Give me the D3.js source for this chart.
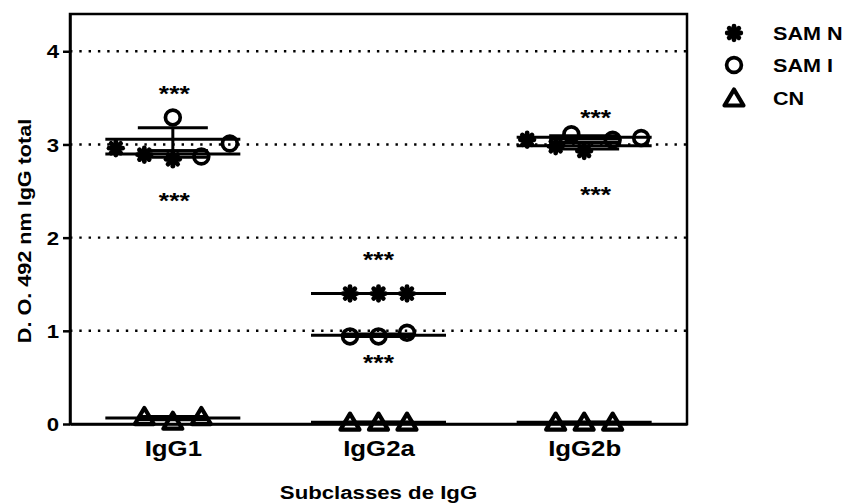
<!DOCTYPE html>
<html>
<head>
<meta charset="utf-8">
<script src="https://cdn.jsdelivr.net/npm/d3@7"></script>
<style>
  html, body { margin: 0; padding: 0; background: #fff; }
  svg { display: block; font-family: "Liberation Sans", Arial, sans-serif; font-weight: bold; }
</style>
</head>
<body>
<svg id="chart" width="842" height="504"></svg>
<script>
// ---- data ----
const categories = ["IgG1", "IgG2a", "IgG2b"];
const seriesNames = ["SAM N", "SAM I", "CN"];
// replicate optical densities per subclass
const samN = [[2.96, 2.89, 2.84], [1.40, 1.40, 1.40], [3.05, 2.98, 2.93]];
const samI = [[3.29, 2.87, 3.01], [0.94, 0.94, 0.98], [3.11, 3.05, 3.07]];
const cn   = [[0.08, 0.03, 0.08], [0.02, 0.02, 0.02], [0.02, 0.02, 0.02]];
// horizontal spread slot of each replicate inside its column
const samNSlots = [[-2, -1, 0], [-1, 0, 1], [-2, -1, 0]];
const samISlots = [[0, 1, 2], [-1, 0, 1], [-0.45, 1, 2]];
const cnSlots   = [[-1, 0, 1], [-1, 0, 1], [-1, 0, 1]];
const yTicks = [0, 1, 2, 3, 4];
// significance marks above and below each column
const sigText = "***";
const sigAbove = [3.60, 1.82, 3.34];
const sigBelow = [2.45, 0.71, 2.52];
const sigShift = [0.05, 0, 0.4];

// ---- layout ----
const plot = { left: 70, right: 687, top: 14, bottom: 424 };
const slotW = 28.5;
const meanHalf = 67.5, capHalf = 35;
const stretch = 1.2;

const svg = d3.select("#chart");
const x = d3.scalePoint().domain(categories).range([plot.left, plot.right]).padding(0.5);
const y = d3.scaleLinear().domain([0, 4.4]).range([plot.bottom, plot.top]);

// text drawn slightly widened along its own direction
function wideText(g, tx, ty, str, size, anchor, rot) {
  return g.append("text")
    .attr("transform", `translate(${tx},${ty})` + (rot ? ` rotate(${rot})` : "") + ` scale(${stretch},1)`)
    .attr("text-anchor", anchor)
    .attr("font-size", size)
    .attr("fill", "#000")
    .text(str);
}

// symbols
function drawSymbol(g, kind) {
  if (kind === "star") {
    const r = 6.8;
    for (let k = 0; k < 4; k++) {
      const a = k * Math.PI / 4;
      g.append("line")
        .attr("x1", -r * Math.cos(a)).attr("y1", -r * Math.sin(a))
        .attr("x2", r * Math.cos(a)).attr("y2", r * Math.sin(a))
        .attr("stroke", "#000").attr("stroke-width", 4.8).attr("stroke-linecap", "round");
    }
    g.append("circle").attr("r", 5.6).attr("fill", "#000");
  } else if (kind === "circle") {
    g.append("circle").attr("r", 7.4).attr("fill", "none")
      .attr("stroke", "#000").attr("stroke-width", 3.7);
  } else {
    g.append("path").attr("d", "M0,-8.5L9.5,7.5L-9.5,7.5Z").attr("fill", "none")
      .attr("stroke", "#000").attr("stroke-width", 4.2).attr("stroke-linejoin", "round");
  }
}

const series = [
  { name: seriesNames[0], values: samN, slots: samNSlots, symbol: "star" },
  { name: seriesNames[1], values: samI, slots: samISlots, symbol: "circle" },
  { name: seriesNames[2], values: cn,   slots: cnSlots,   symbol: "triangle" }
];

// dotted horizontal gridlines
svg.append("g").selectAll("line")
  .data(yTicks.filter(t => t > 0))
  .join("line")
  .attr("x1", plot.left).attr("x2", plot.right)
  .attr("y1", d => y(d)).attr("y2", d => y(d))
  .attr("stroke", "#000").attr("stroke-width", 2.4)
  .attr("stroke-dasharray", "2.4,6.9");

// frame
svg.append("rect")
  .attr("x", plot.left).attr("y", plot.top)
  .attr("width", plot.right - plot.left).attr("height", plot.bottom - plot.top)
  .attr("fill", "none").attr("stroke", "#000").attr("stroke-width", 2.5);

// y axis
const yAxis = svg.append("g")
  .attr("transform", `translate(${plot.left},0)`)
  .call(d3.axisLeft(y).tickValues(yTicks).tickFormat(d3.format("d")).tickSize(7).tickSizeOuter(0));
yAxis.select(".domain").attr("stroke-width", 2.5);
yAxis.selectAll(".tick line").attr("stroke-width", 2.5);
yAxis.selectAll(".tick text")
  .attr("font-size", 18.5)
  .attr("font-family", "Liberation Sans, Arial, sans-serif")
  .attr("font-weight", "bold")
  .attr("fill", "#000")
  .attr("x", -11 / stretch)
  .attr("dy", "0.36em")
  .attr("transform", `scale(${stretch},1)`);

// x axis (category names)
const xAxis = svg.append("g")
  .attr("transform", `translate(0,${plot.bottom})`)
  .call(d3.axisBottom(x).tickSize(0).tickSizeOuter(0));
xAxis.select(".domain").attr("stroke-width", 2.5);
xAxis.selectAll(".tick text")
  .attr("font-size", 21.5)
  .attr("font-family", "Liberation Sans, Arial, sans-serif")
  .attr("font-weight", "bold")
  .attr("fill", "#000")
  .attr("y", 32).attr("dy", 0)
  .attr("transform", `scale(${stretch},1)`);

// mean lines with SEM bars
const stats = svg.append("g");
series.forEach(s => {
  categories.forEach((c, i) => {
    const vals = s.values[i];
    const m = d3.mean(vals);
    const sem = (d3.deviation(vals) || 0) / Math.sqrt(vals.length);
    const cx = x(c);
    stats.append("line")
      .attr("x1", cx - meanHalf).attr("x2", cx + meanHalf)
      .attr("y1", y(m)).attr("y2", y(m))
      .attr("stroke", "#000").attr("stroke-width", 3);
    stats.append("line")
      .attr("x1", cx).attr("x2", cx)
      .attr("y1", y(m - sem)).attr("y2", y(m + sem))
      .attr("stroke", "#000").attr("stroke-width", 3);
    [m - sem, m + sem].forEach(v => {
      stats.append("line")
        .attr("x1", cx - capHalf).attr("x2", cx + capHalf)
        .attr("y1", y(v)).attr("y2", y(v))
        .attr("stroke", "#000").attr("stroke-width", 3);
    });
  });
});

// replicate points
const pts = svg.append("g");
series.forEach(s => {
  categories.forEach((c, i) => {
    s.values[i].forEach((v, j) => {
      const g = pts.append("g")
        .attr("transform", `translate(${x(c) + s.slots[i][j] * slotW},${y(v)})`);
      drawSymbol(g, s.symbol);
    });
  });
});

// significance marks
const sig = svg.append("g");
const sigSize = 22;
categories.forEach((c, i) => {
  [sigAbove[i], sigBelow[i]].forEach(v => {
    wideText(sig, x(c) + sigShift[i] * slotW, y(v) + 0.56 * sigSize, sigText, sigSize, "middle");
  });
});

// axis titles
wideText(svg, 31, 231, "D. O. 492 nm IgG total", 18, "middle", -90);
wideText(svg, (plot.left + plot.right) / 2, 499, "Subclasses de IgG", 18.5, "middle");

// legend
const legendRows = [33, 65, 98];
series.forEach((s, k) => {
  const g = svg.append("g").attr("transform", `translate(734,${legendRows[k]})`);
  drawSymbol(g, s.symbol);
  wideText(svg, 773, legendRows[k] + 6.6, s.name, 18, "start");
});
</script>
</body>
</html>
